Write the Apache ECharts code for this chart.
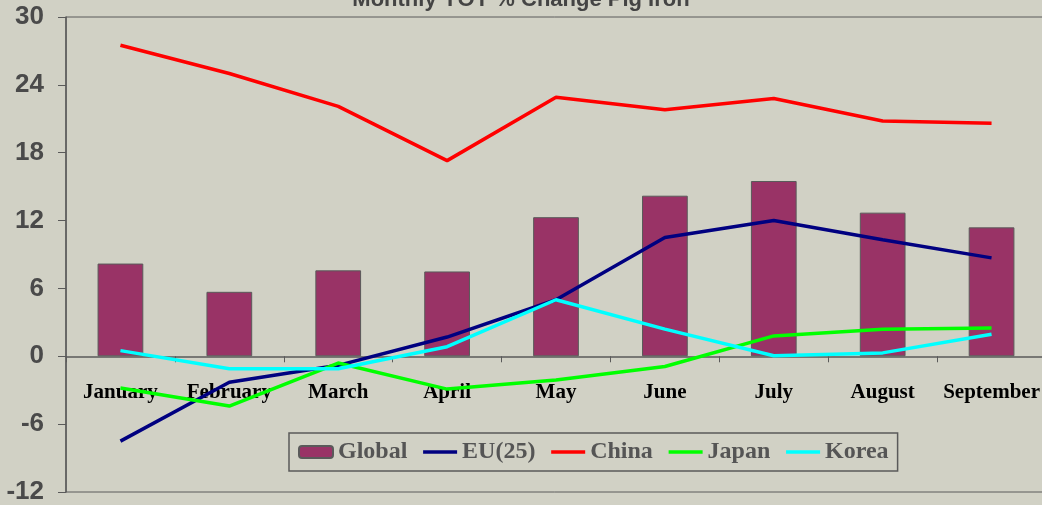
<!DOCTYPE html>
<html>
<head>
<meta charset="utf-8">
<script src="https://cdn.jsdelivr.net/npm/echarts@6/dist/echarts.min.js"></script>
<style>
  html, body { margin: 0; padding: 0; background: #d1d1c5; }
  #chart { width: 1042px; height: 505px; }
</style>
</head>
<body>
<div id="chart"></div>
<script>
// months on the category axis
const months = ['January', 'February', 'March', 'April', 'May', 'June', 'July', 'August', 'September']

// YOY % change
const globalVals = [8.2, 5.7, 7.6, 7.5, 12.3, 14.2, 15.5, 12.7, 11.4]
const euVals = [-7.5, -2.3, -0.8, 1.7, 5.0, 10.5, 12.0, 10.3, 8.7]
const chinaVals = [27.5, 25.0, 22.1, 17.3, 22.9, 21.8, 22.8, 20.8, 20.6]
const japanVals = [-2.8, -4.4, -0.6, -2.9, -2.1, -0.9, 1.8, 2.4, 2.5]
const koreaVals = [0.5, -1.1, -1.1, 0.85, 5.0, 2.4, 0.05, 0.3, 1.95]

const chart = echarts.init(document.getElementById('chart'))

const serif = "'Liberation Serif', 'Times New Roman', serif"

// plot box (the right edge runs a little past the window, like the original)
const gridTop = 17
const gridHeight = 475
const yMin = -12
const yMax = 30
// the category axis sits on the zero line
const zeroOffset = -gridHeight * (0 - yMin) / (yMax - yMin)

// line series share the same look apart from colour
const lineSeries = (name, data, color) => ({
  name: name,
  type: 'line',
  data: data,
  symbol: 'none',
  lineStyle: { color: color, width: 3.5 },
  itemStyle: { color: color },
  z: 3
})

// legend line entries: only the stroke, no marker
const lineLegend = name => ({ name: name, itemStyle: { opacity: 0 }, lineStyle: { width: 3.5 } })

const option = {
  backgroundColor: '#d1d1c5',
  animation: false,
  title: {
    text: 'Monthly YOY % Change Pig Iron',
    left: 'center',
    top: -11,
    padding: 0,
    textStyle: {
      fontFamily: "'Liberation Sans', Arial, sans-serif",
      fontSize: 22,
      fontWeight: 'bold',
      color: '#444'
    }
  },
  grid: {
    left: 66,
    top: gridTop,
    width: 980,
    height: gridHeight,
    outerBoundsMode: 'none',
    containLabel: false,
    show: true,
    borderColor: '#5a5a5a',
    borderWidth: 1,
    backgroundColor: 'transparent'
  },
  legend: {
    left: 289,
    top: 433,
    orient: 'horizontal',
    itemWidth: 34,
    itemHeight: 12,
    itemGap: 14,
    itemTextGap: 8,
    padding: [7, 9, 7, 9],
    borderColor: '#5a5a5a',
    borderWidth: 1.5,
    data: ['Global', lineLegend('EU(25)'), lineLegend('China'), lineLegend('Japan'), lineLegend('Korea')],
    textStyle: {
      fontFamily: serif,
      fontSize: 24,
      fontWeight: 'bold',
      color: '#555'
    }
  },
  xAxis: {
    type: 'category',
    data: months,
    position: 'bottom',
    offset: zeroOffset,
    axisLine: { onZero: false, lineStyle: { color: '#5a5a5a', width: 1.5 } },
    axisTick: { show: true, length: 6, lineStyle: { color: '#5a5a5a' } },
    axisLabel: {
      interval: 0,
      margin: 26,
      fontFamily: serif,
      fontSize: 21,
      fontWeight: 'bold',
      color: '#000'
    }
  },
  yAxis: {
    type: 'value',
    min: yMin,
    max: yMax,
    interval: 6,
    axisLine: { show: true, lineStyle: { color: '#5a5a5a', width: 1.5 } },
    axisTick: { show: true, length: 8, lineStyle: { color: '#5a5a5a' } },
    splitLine: { show: false },
    axisLabel: {
      margin: 22,
      fontFamily: "'Liberation Sans Narrow', 'Arial Narrow', 'Liberation Sans', sans-serif",
      fontSize: 26,
      fontWeight: 'bold',
      color: '#4a4a4a'
    }
  },
  series: [
    {
      name: 'Global',
      type: 'bar',
      data: globalVals,
      barWidth: '42%',
      itemStyle: { color: '#993366', borderColor: '#5a5a5a', borderWidth: 1 },
      z: 2
    },
    lineSeries('EU(25)', euVals, '#000080'),
    lineSeries('China', chinaVals, '#ff0000'),
    lineSeries('Japan', japanVals, '#00ff00'),
    lineSeries('Korea', koreaVals, '#00ffff')
  ]
}

chart.setOption(option)
</script>
</body>
</html>
